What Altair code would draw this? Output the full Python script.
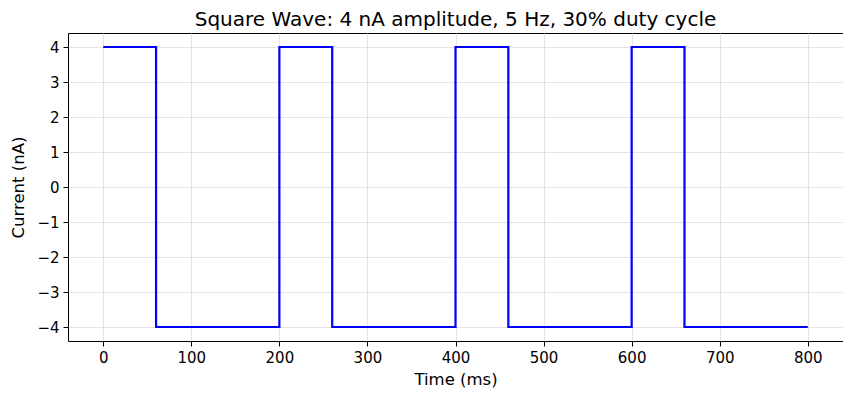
import altair as alt
import pandas as pd

# step points of the square wave (period 200 ms, high for 60 ms)
time_ms = [0, 60, 60, 200, 200, 260, 260, 400, 400, 460, 460, 600, 600, 660, 660, 800]
current_na = [4, 4, -4, -4, 4, 4, -4, -4, 4, 4, -4, -4, 4, 4, -4, -4]
x_ticks = [0, 100, 200, 300, 400, 500, 600, 700, 800]
y_ticks = [-4, -3, -2, -1, 0, 1, 2, 3, 4]

data = pd.DataFrame({"t": time_ms, "i": current_na, "k": range(len(time_ms))})

font = "DejaVu Sans"

chart = (
    alt.Chart(data)
    .mark_line(color="#0000ff", strokeWidth=2.2, clip=True)
    .encode(
        alt.X(
            "t:Q",
            title="Time (ms)",
            scale=alt.Scale(domain=[-40, 840], nice=False, zero=False),
            axis=alt.Axis(values=x_ticks, titlePadding=6),
        ),
        alt.Y(
            "i:Q",
            title="Current (nA)",
            scale=alt.Scale(domain=[-4.4, 4.4], nice=False),
            axis=alt.Axis(values=y_ticks, titlePadding=10),
        ),
        order="k:Q",
    )
    .properties(
        width=775,
        height=308,
        title=alt.TitleParams(
            "Square Wave: 4 nA amplitude, 5 Hz, 30% duty cycle",
            dy=5,
        ),
        autosize=alt.AutoSizeParams(type="none"),
        padding={"left": 60, "top": 25, "right": 0, "bottom": 50},
    )
    .configure_view(stroke="black", strokeWidth=1)
    .configure_axis(
        labelFont=font,
        titleFont=font,
        labelFontSize=15,
        titleFontSize=16.5,
        titleFontWeight="normal",
        labelColor="black",
        titleColor="black",
        domain=False,
        tickColor="black",
        tickSize=5,
        labelPadding=4,
        gridColor="#dddddd",
        gridWidth=0.8,
    )
    .configure_title(font=font, fontSize=20, fontWeight="normal", color="black", offset=8)
)

chart.save("out.html", embed_options={"renderer": "svg", "actions": False})
